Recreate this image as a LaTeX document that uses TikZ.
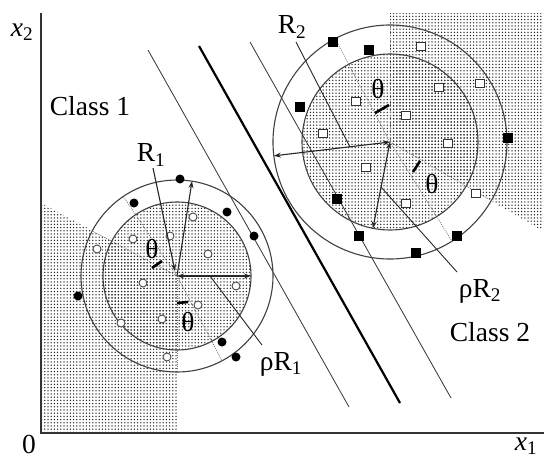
\documentclass[tikz,border=0pt]{standalone}
\usepackage{fontspec}
\setmainfont{Liberation Serif}
\usetikzlibrary{patterns.meta,arrows.meta,calc}
\begin{document}
\begin{tikzpicture}[x=1pt,y=-1pt,
  lbl/.style={inner sep=0pt, font=\fontsize{27.5}{30}\selectfont},
  shd/.style={pattern={Dots[radius=0.75pt,distance=3.2pt]}, pattern color=black!85},
  circ/.style={draw=black!75, line width=1.1pt},
  sepline/.style={draw=black!80, line width=0.8pt},
  septhick/.style={draw=black, line width=2.2pt},
  radline/.style={draw=black!55, line width=0.7pt, dash pattern=on 1pt off 1.2pt},
  ax/.style={draw=black!80, line width=1.4pt},
  arr/.style={draw=black!85, line width=1.1pt, -{Stealth[length=7pt,width=5pt]}},
  darr/.style={draw=black!85, line width=1.1pt, {Stealth[length=7pt,width=5pt]}-{Stealth[length=7pt,width=5pt]}},
  lead/.style={draw=black!85, line width=0.9pt},
  tick/.style={draw=black, line width=2.6pt},
  fdot/.style={circle, fill=black, inner sep=0pt, minimum size=9pt},
  odot/.style={circle, draw=black!70, fill=white, line width=0.9pt, inner sep=0pt, minimum size=8pt},
  fsq/.style={rectangle, fill=black, inner sep=0pt, minimum size=10pt},
  osq/.style={rectangle, draw=black!80, fill=white, line width=1pt, inner sep=0pt, minimum width=9pt, minimum height=8pt}
]
\useasboundingbox (0,0) rectangle (544,458);
\coordinate (c1) at (177,276);
\coordinate (c2) at (390,142);
% shading
\fill[shd] (c1) -- (41,203) -- (41,433) -- (177,433) -- cycle;
\fill[shd] (c1) circle[radius=74];
\fill[shd] (c2) -- (390,13) -- (543,13) -- (543,231) -- cycle;
\fill[shd] (c2) circle[radius=88];
% axes
\coordinate (o) at (41,433);
\coordinate (ytop) at (41,13);
\coordinate (xend) at (544,433);
\draw[ax] (ytop) -- (o) -- (xend);
% separating lines
\coordinate (a1) at (148,50); \coordinate (a2) at (349,407);
\coordinate (b1) at (199,46); \coordinate (b2) at (400,403);
\coordinate (k1) at (250,42); \coordinate (k2) at (451,398);
\draw[sepline] (a1) -- (a2);
\draw[septhick] (b1) -- (b2);
\draw[sepline] (k1) -- (k2);
% circles
\draw[circ] (c1) circle[radius=74];
\draw[circ] (c1) circle[radius=96];
\draw[circ] (c2) circle[radius=88];
\draw[circ] (c2) circle[radius=117];
% radial dotted lines
\foreach \a in {124,152,270,298} \draw[radline] (c1) -- ++(-\a:96);
\foreach \a in {90,118,-30,-58} \draw[radline] (c2) -- ++(-\a:117);
% angle ticks
\draw[tick] (152,268) -- (162,261);
\draw[tick] (177,303) -- (188,302);
\draw[tick] (375,113) -- (389,105);
\draw[tick] (413,172) -- (420,161);
% radius arrows and leaders
\coordinate (r1end) at ($(c1)+(-81:96)$);
\coordinate (pr1end) at ($(c1)+(74,0)$);
\coordinate (r2end) at ($(c2)+(-186.8:117)$);
\coordinate (pr2end) at ($(c2)+(101.2:88)$);
\draw[arr] (c1) -- (r1end);
\draw[darr] (c1) -- (pr1end);
\draw[darr] (c2) -- (r2end);
\draw[darr] (c2) -- (pr2end);
% markers circle 1
\foreach \p [count=\i] in {(180,179),(134,203),(227,212),(254,236),(78,296),(222,342),(236,357)}
  \node[fdot] (f\i) at \p {};
\foreach \p [count=\i] in {(193,217),(170,236),(133,239),(97,249),(208,254),(143,283),(236,286),(198,305),(162,319),(121,323),(167,357)}
  \node[odot] (o\i) at \p {};
% markers circle 2
\foreach \p [count=\i] in {(333,42),(369,50),(300,107),(508,138),(337,199),(359,236),(457,236),(416,253)}
  \node[fsq] (s\i) at \p {};
\foreach \p [count=\i] in {(421,46),(480,83),(439,87),(356,101),(406,115),(323,133),(448,143),(366,167),(476,193),(406,203)}
  \node[osq] (q\i) at \p {};
% labels
\node[lbl] (lx2) at (22,32) {\textit{x}\textsubscript{2}};
\node[lbl] (l0) at (29,444) {0};
\node[lbl] (lx1) at (526,446) {\textit{x}\textsubscript{1}};
\node[lbl] (cl1) at (90,106) {Class 1};
\node[lbl] (cl2) at (490,332) {Class 2};
\node[lbl] (lr1) at (151,155) {R\textsubscript{1}};
\node[lbl] (lr2) at (292,27) {R\textsubscript{2}};
\node[lbl] (lpr1) at (281,364) {ρR\textsubscript{1}};
\node[lbl] (lpr2) at (480,291) {ρR\textsubscript{2}};
\node[lbl] (t1) at (152,249) {θ};
\node[lbl] (t2) at (188,322) {θ};
\node[lbl] (t3) at (378,89) {θ};
\node[lbl] (t4) at (432,184) {θ};
% leaders
\coordinate (lr1s) at (153,168); \coordinate (lr1e) at (175,271);
\coordinate (lp1s) at (262,345); \coordinate (lp1e) at (210,276);
\coordinate (lr2s) at (296,42); \coordinate (lr2e) at (350,147);
\coordinate (lp2s) at (457,272); \coordinate (lp2e) at (381,187);
\draw[arr] (lr1s) -- (lr1e);
\draw[lead] (lp1s) -- (lp1e);
\draw[lead] (lr2s) -- (lr2e);
\draw[lead] (lp2s) -- (lp2e);
\end{tikzpicture}
\end{document}
